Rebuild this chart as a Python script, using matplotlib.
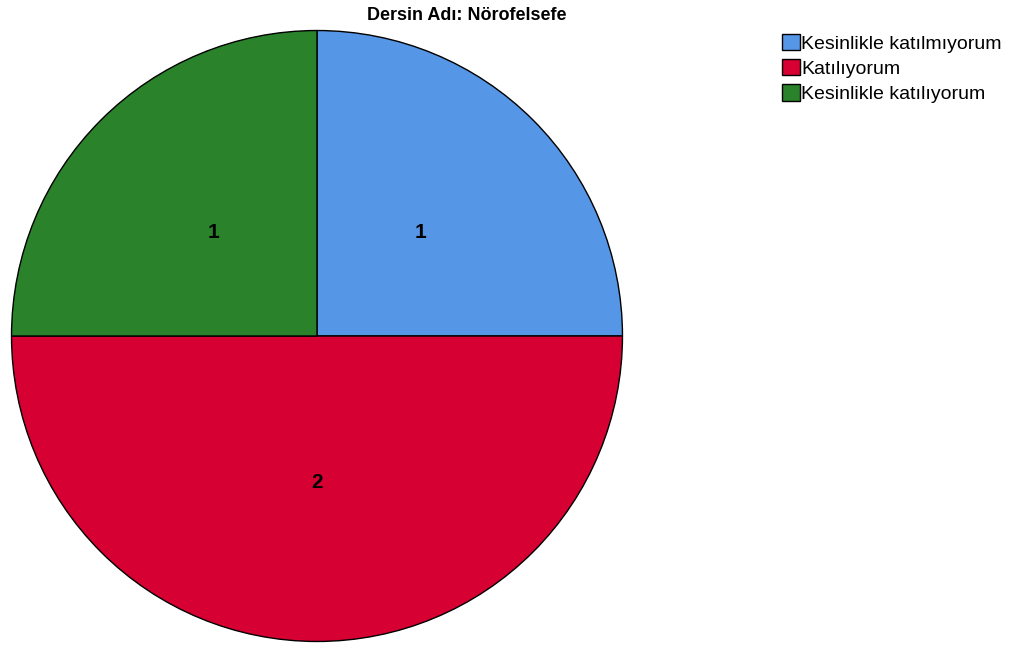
import matplotlib.pyplot as plt

plt.rcParams['font.family'] = ['Liberation Sans', 'DejaVu Sans']

labels = ['Kesinlikle katılmıyorum', 'Katılıyorum', 'Kesinlikle katılıyorum']
counts = [1, 2, 1]
colors = ['#5596E6', '#D60032', '#2A832A']

fig = plt.figure(figsize=(10.1, 6.48), dpi=100)
# pie centred at (317, 336) px, radius ~307 px
ax = fig.add_axes([10 / 1010, 5 / 648, 614 / 1010, 614 / 648])

wedges, texts = ax.pie(counts, colors=colors, startangle=90, counterclock=False,
                       radius=1.0, labels=[str(c) for c in counts],
                       labeldistance=0.48,
                       textprops=dict(fontsize=15, fontweight='bold'),
                       wedgeprops=dict(edgecolor='black', linewidth=1.0))
for t in texts:
    t.set_ha('center')
    t.set_va('center')
ax.set_xlim(-1.005, 1.005)
ax.set_ylim(-1.005, 1.005)
ax.set_aspect('equal')
ax.axis('off')

fig.text(467 / 1010, 1 - 15 / 648, 'Dersin Adı: Nörofelsefe', ha='center', va='center',
         fontsize=13, fontweight='bold')

fig.legend(wedges, labels, loc='upper left', bbox_to_anchor=(782 / 1010, 1 - 34 / 648),
           frameon=False, fontsize=14, handlelength=0.9, handleheight=0.9,
           handletextpad=0.1, labelspacing=0.33, borderaxespad=0, borderpad=0)

fig.savefig('out.png', dpi=100)
